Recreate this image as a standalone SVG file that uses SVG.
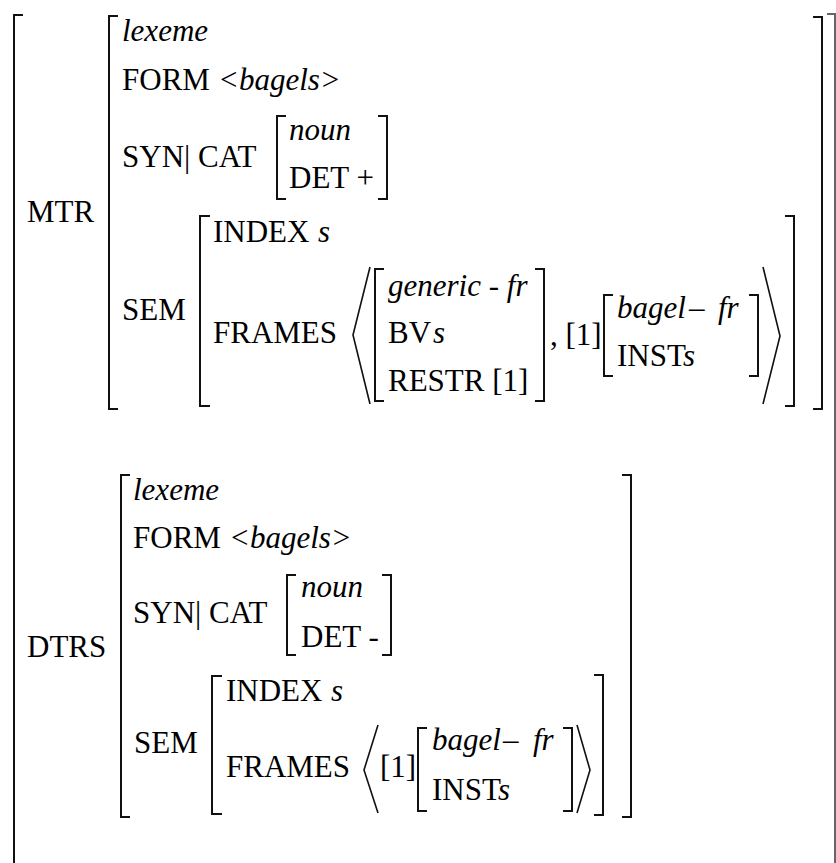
<svg xmlns="http://www.w3.org/2000/svg" width="836" height="863" viewBox="0 0 836 863">
<rect width="836" height="863" fill="#fff"/>
<g id="outer" fill="none" stroke="#111" stroke-width="2">
<polyline points="23,15 14,15 14,863"/>
<polyline points="827,14 835,14 835,863" stroke="#666"/>
</g>
<g id="mtr">
<text x="27" y="222" font-family="Liberation Serif" font-size="31">MTR</text>
<g fill="none" stroke="#111" stroke-width="2">
<polyline points="118,16 109,16 109,409 118,409"/>
<polyline points="813,17 822,17 822,409 813,409"/>
</g>
<text x="122" y="41" font-family="Liberation Serif" font-size="31" font-style="italic">lexeme</text>
<text x="122" y="90" font-family="Liberation Serif" font-size="31">FORM</text>
<text x="218" y="90" font-family="Liberation Serif" font-size="31" font-style="italic">&lt;bagels&gt;</text>
<text x="122" y="167" font-family="Liberation Serif" font-size="31">SYN| CAT</text>
<g id="mtr-cat">
<g fill="none" stroke="#111" stroke-width="2">
<polyline points="286,116 277,116 277,199 286,199"/>
<polyline points="378,116 387,116 387,199 378,199"/>
</g>
<text x="289" y="140" font-family="Liberation Serif" font-size="31" font-style="italic">noun</text>
<text x="289" y="188" font-family="Liberation Serif" font-size="31">DET +</text>
</g>
<g id="mtr-sem">
<text x="122" y="320" font-family="Liberation Serif" font-size="31">SEM</text>
<g fill="none" stroke="#111" stroke-width="2">
<polyline points="210,216 200,216 200,406 210,406"/>
<polyline points="785,216 794,216 794,406 785,406"/>
</g>
<text x="213" y="242" font-family="Liberation Serif" font-size="31">INDEX</text>
<text x="318" y="242" font-family="Liberation Serif" font-size="31" font-style="italic">s</text>
<text x="213" y="343" font-family="Liberation Serif" font-size="31">FRAMES</text>
<g fill="none" stroke="#111" stroke-width="1.6">
<polyline points="370,267 353,335 370,404"/>
<polyline points="763,267 780,336 763,404"/>
</g>
<g id="mtr-generic">
<g fill="none" stroke="#111" stroke-width="2">
<polyline points="384,269 375,269 375,401 384,401"/>
<polyline points="535,269 544,269 544,401 535,401"/>
</g>
<text x="388" y="296" font-family="Liberation Serif" font-size="31" font-style="italic">generic - fr</text>
<text x="388" y="343" font-family="Liberation Serif" font-size="31">BV</text>
<text x="433" y="343" font-family="Liberation Serif" font-size="31" font-style="italic">s</text>
<text x="388" y="391" font-family="Liberation Serif" font-size="31">RESTR [1]</text>
</g>
<text x="550" y="345" font-family="Liberation Serif" font-size="31">, [1]</text>
<g id="mtr-bagel">
<g fill="none" stroke="#111" stroke-width="2">
<polyline points="613,295 604,295 604,376 613,376"/>
<polyline points="749,295 758,295 758,376 749,376"/>
</g>
<text x="617" y="318" font-family="Liberation Serif" font-size="31" font-style="italic">bagel</text>
<text x="689" y="318" font-family="Liberation Serif" font-size="31">–</text>
<text x="718" y="318" font-family="Liberation Serif" font-size="31" font-style="italic">fr</text>
<text x="617" y="366" font-family="Liberation Serif" font-size="31">INST</text>
<text x="683" y="366" font-family="Liberation Serif" font-size="31" font-style="italic">s</text>
</g>
</g>
</g>
<g id="dtrs">
<text x="27" y="657" font-family="Liberation Serif" font-size="31">DTRS</text>
<g fill="none" stroke="#111" stroke-width="2">
<polyline points="130,475 121,475 121,817 130,817"/>
<polyline points="622,475 631,475 631,817 622,817"/>
</g>
<text x="133" y="500" font-family="Liberation Serif" font-size="31" font-style="italic">lexeme</text>
<text x="133" y="548" font-family="Liberation Serif" font-size="31">FORM</text>
<text x="229" y="548" font-family="Liberation Serif" font-size="31" font-style="italic">&lt;bagels&gt;</text>
<text x="133" y="623" font-family="Liberation Serif" font-size="31">SYN| CAT</text>
<g id="dtrs-cat">
<g fill="none" stroke="#111" stroke-width="2">
<polyline points="296,575 287,575 287,655 296,655"/>
<polyline points="382,575 391,575 391,655 382,655"/>
</g>
<text x="301" y="597" font-family="Liberation Serif" font-size="31" font-style="italic">noun</text>
<text x="301" y="647" font-family="Liberation Serif" font-size="31">DET -</text>
</g>
<g id="dtrs-sem">
<text x="134" y="753" font-family="Liberation Serif" font-size="31">SEM</text>
<g fill="none" stroke="#111" stroke-width="2">
<polyline points="222,676 212,676 212,814 222,814"/>
<polyline points="594,675 603,675 603,815 594,815"/>
</g>
<text x="226" y="701" font-family="Liberation Serif" font-size="31">INDEX</text>
<text x="331" y="701" font-family="Liberation Serif" font-size="31" font-style="italic">s</text>
<text x="226" y="777" font-family="Liberation Serif" font-size="31">FRAMES</text>
<g fill="none" stroke="#111" stroke-width="1.6">
<polyline points="378,725 364,770 378,813"/>
<polyline points="577,725 590,770 577,813"/>
</g>
<text x="380" y="777" font-family="Liberation Serif" font-size="31">[1]</text>
<g id="dtrs-bagel">
<g fill="none" stroke="#111" stroke-width="2">
<polyline points="427,728 418,728 418,811 427,811"/>
<polyline points="563,728 572,728 572,811 563,811"/>
</g>
<text x="432" y="750" font-family="Liberation Serif" font-size="31" font-style="italic">bagel</text>
<text x="503" y="750" font-family="Liberation Serif" font-size="31">–</text>
<text x="533" y="750" font-family="Liberation Serif" font-size="31" font-style="italic">fr</text>
<text x="432" y="800" font-family="Liberation Serif" font-size="31">INST</text>
<text x="498" y="800" font-family="Liberation Serif" font-size="31" font-style="italic">s</text>
</g>
</g>
</g>
</svg>
